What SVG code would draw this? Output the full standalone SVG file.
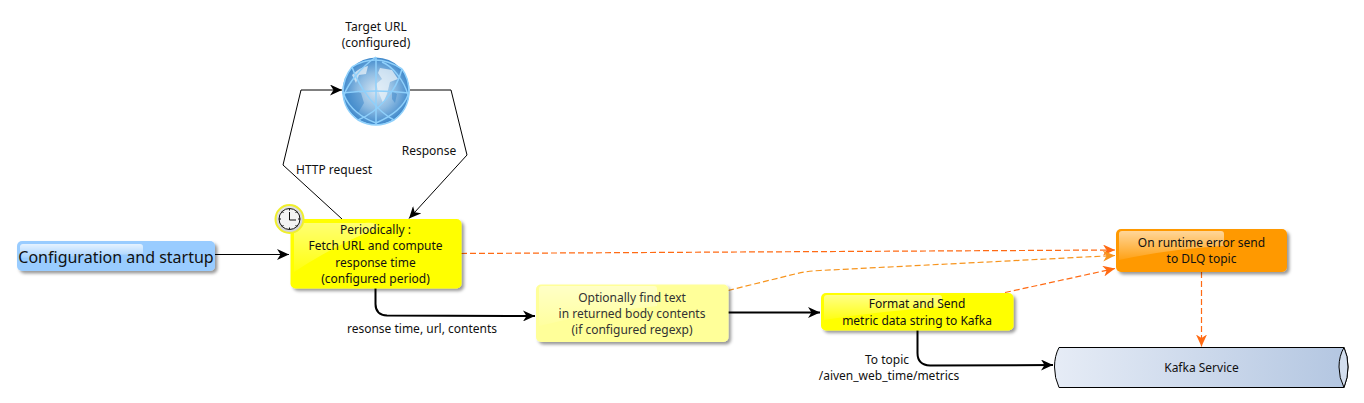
<svg xmlns="http://www.w3.org/2000/svg" width="1364" height="403" viewBox="0 0 1364 403">
<style>
text{font-family:"Noto Sans","Open Sans","DejaVu Sans",sans-serif;font-size:12px;fill:#111;text-anchor:middle}
.box{stroke:none}
.thin{fill:none;stroke:#000;stroke-width:1}
.thick{fill:none;stroke:#000;stroke-width:2}
.dash{fill:none;stroke:#ff6a13;stroke-width:1.200;stroke-dasharray:6 3}
.dash2{fill:none;stroke:#f7941d;stroke-width:1.200;stroke-dasharray:6 3}
.head{fill:#000}
</style>
<defs>
<filter id="sh" x="-10%" y="-20%" width="125%" height="150%"><feDropShadow dx="2.5" dy="2.5" stdDeviation="1.6" flood-color="#000" flood-opacity="0.4"/></filter>
<linearGradient id="gl" x1="0" y1="0" x2="0" y2="1"><stop offset="0" stop-color="#fff" stop-opacity="0.75"/><stop offset="1" stop-color="#fff" stop-opacity="0.1"/></linearGradient>
<linearGradient id="kf" x1="0" y1="0" x2="1" y2="0"><stop offset="0" stop-color="#e6ecf6"/><stop offset="1" stop-color="#b3c6e1"/></linearGradient>
<radialGradient id="gb" cx="0.5" cy="0.5" r="0.55"><stop offset="0" stop-color="#d4e4f2"/><stop offset="0.5" stop-color="#8dbbe2"/><stop offset="1" stop-color="#2f7ec6"/></radialGradient>
<radialGradient id="ck" cx="0.45" cy="0.4" r="0.65"><stop offset="0" stop-color="#fff"/><stop offset="1" stop-color="#c9c9c9"/></radialGradient>
<marker id="a" markerWidth="13" markerHeight="11" refX="12" refY="5.500" orient="auto" markerUnits="userSpaceOnUse"><path class="head" d="M0 0L12 5.500L0 11L3.500 5.500Z"/></marker>
<marker id="ao" markerWidth="13" markerHeight="11" refX="12" refY="5.500" orient="auto" markerUnits="userSpaceOnUse"><path fill="#ff6a13" d="M0 0L12 5.500L0 11L3.500 5.500Z"/></marker>
<marker id="ay" markerWidth="13" markerHeight="11" refX="12" refY="5.500" orient="auto" markerUnits="userSpaceOnUse"><path fill="#f7941d" d="M0 0L12 5.500L0 11L3.500 5.500Z"/></marker>
</defs>

<g id="connectors">
<path class="thin" d="M215 254.500H289" marker-end="url(#a)"/>
<path class="thin" d="M342 219L283 165L301 90H342" marker-end="url(#a)"/>
<path class="thin" d="M410 90H451L467 155L409 218.500" marker-end="url(#a)"/>
<path class="thick" d="M375.500 288V304Q375.500 315 387 315.500L535 316" marker-end="url(#a)"/>
<path class="thick" d="M728 312.500H820" marker-end="url(#a)"/>
<path class="thick" d="M917.500 330V353Q917.500 365 930 365.500L1053 365" marker-end="url(#a)"/>
<path class="dash" d="M461 253.500L1115 250" marker-end="url(#ao)"/>
<path class="dash2" d="M728 290.500L797 273.500Q808 271 820 270.500L1115 255.500" marker-end="url(#ay)"/>
<path class="dash" d="M1005 292.500L1115 268.500" marker-end="url(#ao)"/>
<path class="dash" d="M1201.500 272V346.500" marker-end="url(#ao)"/>
</g>

<g id="target-url">
<text x="376" y="30.500">Target URL</text>
<text x="376" y="46.500">(configured)</text>
<circle cx="376" cy="91" r="33.500" fill="url(#gb)"/>
<path d="M352 75q8-8 16-9l-2 8-7 1-3 8zM380 68l12 2 6 9-8 3-3 12-4 9-4-10-3-9 6-5-4-6z" fill="#e8f1f8" opacity="0.75"/>
<path d="M345 93q8-4 16 0l3 10-6 10-8-6zM392 91l5 3-2 9-3-4z" fill="#2f7ec6" opacity="0.45"/>
<g fill="none" stroke="#8fd0fb" stroke-width="1.500">
<path d="M376 57V125"/>
<path d="M342 93Q376 89 409 93"/>
<path d="M376 57C360 68 348 84 344 95C349 108 362 118 376 123C392 116 404 106 408 95C404 80 392 66 382 62"/>
<path d="M352 67C360 90 378 112 394 120"/>
<path d="M402 69C396 92 378 112 358 120"/>
<path d="M352 67Q376 52 402 69"/>
<path d="M402 69Q409 78 409 93Q408 110 394 120Q376 130 358 120Q344 110 343 93Q343 78 352 67"/>
</g>
</g>

<g id="config">
<rect class="box" x="17" y="241" width="198" height="30" rx="5" fill="#99ccff" filter="url(#sh)"/>
<path d="M20 246a3 3 0 0 1 3-2H140a3 3 0 0 1 3 3V254Q80 256 20 258Z" fill="url(#gl)"/>
<text x="116" y="262.500" style="font-size:16px">Configuration and startup</text>
</g>

<g id="fetch">
<rect class="box" x="290.500" y="219" width="171" height="69.500" rx="5" fill="#ffff00" filter="url(#sh)"/>
<path d="M294 226a3 3 0 0 1 3-3H364Q380 222 378 228Q335 245 294 272Z" fill="url(#gl)" opacity="0.6"/>
<text x="375.500" y="234">Periodically :</text>
<text x="375.500" y="250">Fetch URL and compute</text>
<text x="375.500" y="267">response time</text>
<text x="375.500" y="283">(configured period)</text>
<circle cx="289.500" cy="219" r="14" fill="url(#ck)" stroke="#f0ef2e" stroke-width="2"/>
<circle cx="289.500" cy="219" r="10.500" fill="#f4f4f4" stroke="#111" stroke-width="1"/>
<path d="M289.500 212V220H296" fill="none" stroke="#111" stroke-width="1"/>
<path d="M289.500 208.500v2M289.500 229.500v-2M279 219h2M300 219h-2M282 211.500l1.500 1.500M297 211.500l-1.500 1.500M282 226.500l1.500-1.500M297 226.500l-1.500-1.500" stroke="#111" stroke-width="1"/>
</g>

<g id="regexp">
<rect class="box" x="536" y="284.500" width="192.500" height="57.500" rx="5" fill="#ffff99" filter="url(#sh)"/>
<path d="M539 289a3 3 0 0 1 3-3H654a3 3 0 0 1 3 3V306Q595 312 539 326Z" fill="url(#gl)" opacity="0.6"/>
<text x="632" y="302" style="fill:#333">Optionally find text</text>
<text x="632" y="318" style="fill:#333">in returned body contents</text>
<text x="632" y="334" style="fill:#333">(if configured regexp)</text>
</g>

<g id="format">
<rect class="box" x="821" y="293" width="192.500" height="37.500" rx="5" fill="#ffff00" filter="url(#sh)"/>
<path d="M824 298a3 3 0 0 1 3-3H939a3 3 0 0 1 3 3V307Q880 311 824 320Z" fill="url(#gl)" opacity="0.7"/>
<text x="917" y="308">Format and Send</text>
<text x="917" y="325">metric data string to Kafka</text>
</g>

<g id="dlq">
<rect class="box" x="1116" y="229" width="171" height="43" rx="5" fill="#ff9900" filter="url(#sh)"/>
<path d="M1119 234a3 3 0 0 1 3-3H1221a3 3 0 0 1 3 3V246Q1170 249 1119 260Z" fill="url(#gl)" opacity="0.8"/>
<text x="1201.500" y="247">On runtime error send</text>
<text x="1201.500" y="263">to DLQ topic</text>
</g>

<g id="kafka">
<path d="M1059 347.500H1344Q1348 356 1348 367Q1348 378 1344 387.500H1059Q1054.500 378 1054.500 367Q1054.500 356 1059 347.500Z" fill="url(#kf)" stroke="#000" stroke-width="1"/>
<path d="M1344 347.500Q1339 356 1339 367Q1339 378 1344 387.500Q1348 378 1348 367Q1348 356 1344 347.500Z" fill="#d3deee" stroke="#000" stroke-width="1"/>
<text x="1201.500" y="372">Kafka Service</text>
</g>

<g id="labels">
<text x="334" y="174">HTTP request</text>
<text x="429" y="155">Response</text>
<text x="422" y="333">resonse time, url, contents</text>
<text x="887" y="364">To topic</text>
<text x="889" y="380">/aiven_web_time/metrics</text>
</g>
</svg>
